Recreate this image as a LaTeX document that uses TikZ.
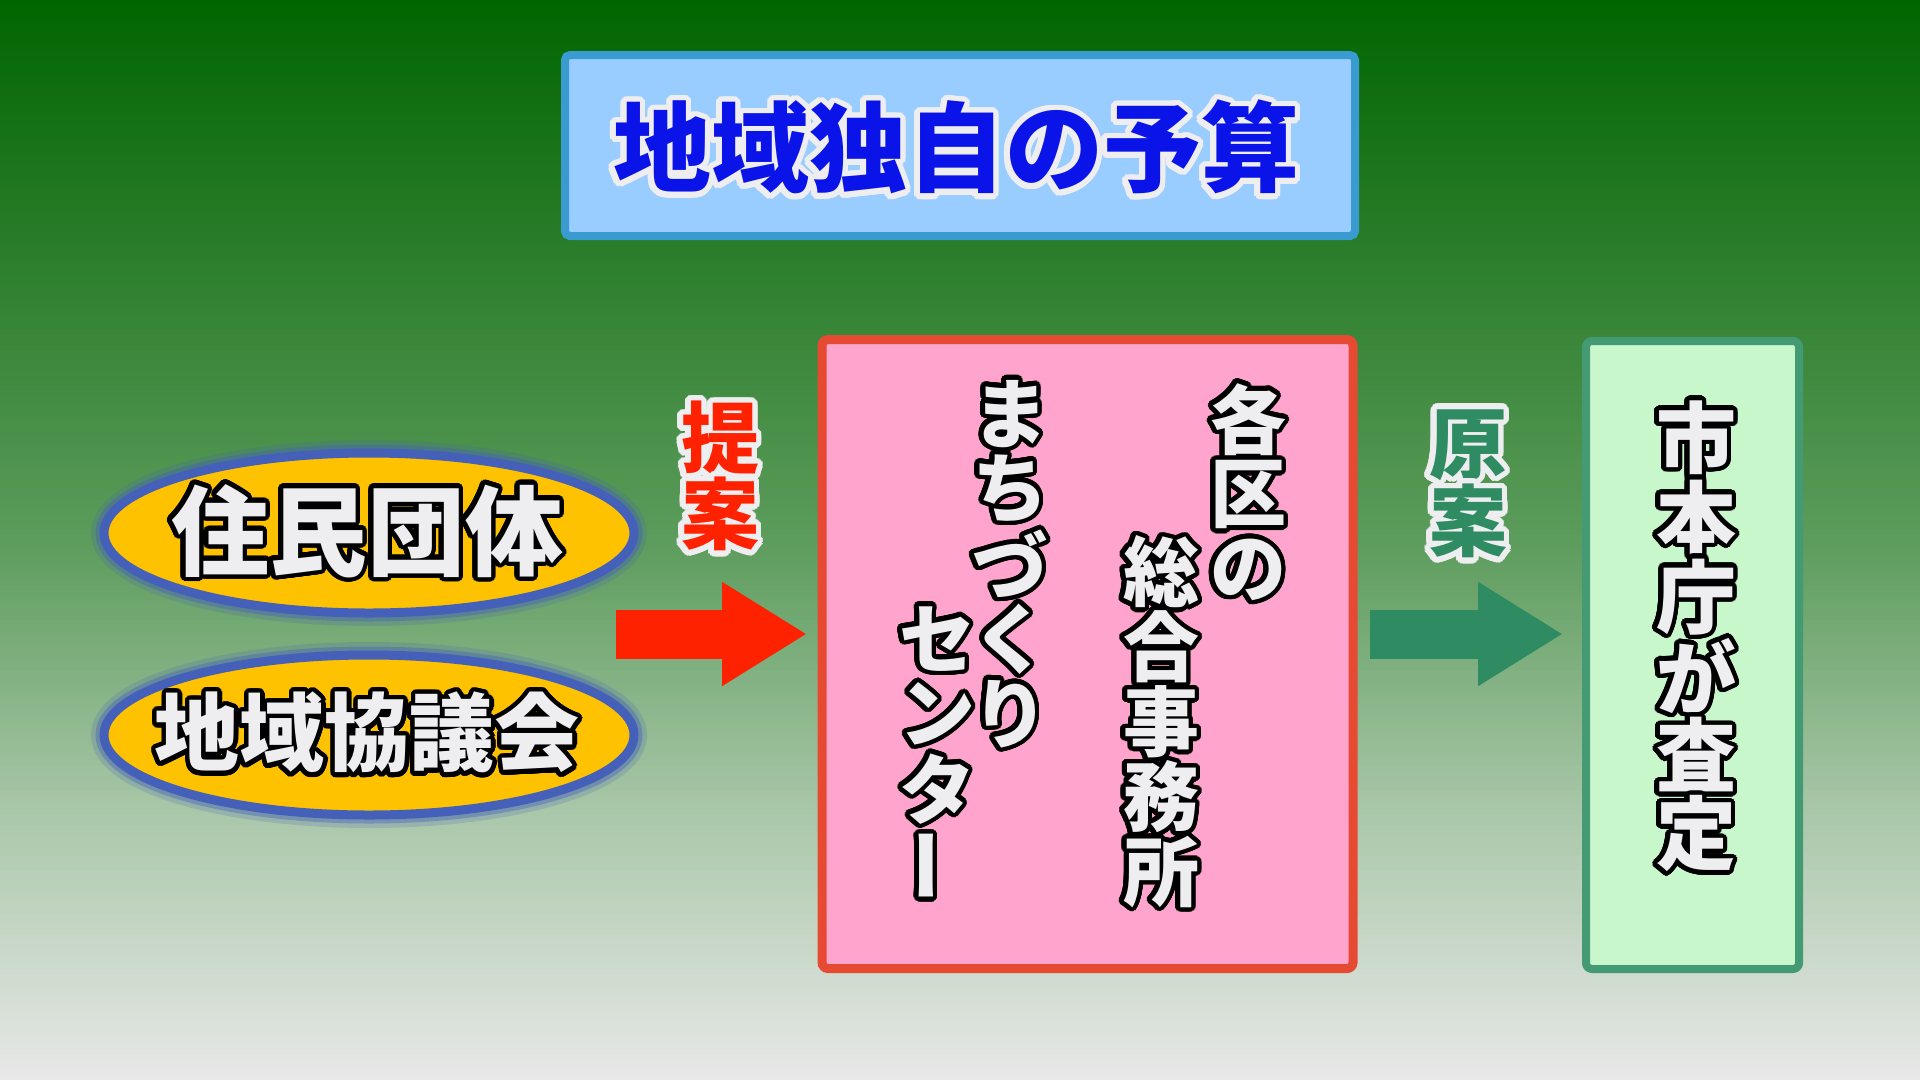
\documentclass[tikz,border=0pt]{standalone}
\usepackage{fontspec}
\usepackage[copies]{contour}
\usetikzlibrary{shapes.geometric,arrows.meta}
\newfontfamily\jp{Noto Sans CJK JP Black}
\contournumber{32}
\definecolor{bgA}{HTML}{006600}
\definecolor{bgB}{HTML}{2E7F2E}
\definecolor{bgC}{HTML}{5C9C5C}
\definecolor{bgD}{HTML}{A9C7A9}
\definecolor{bgE}{HTML}{E8E8E8}
\definecolor{titleFill}{HTML}{99CCFF}
\definecolor{titleBorder}{HTML}{3A9BD0}
\definecolor{titleText}{HTML}{0A14E8}
\definecolor{txtWhite}{HTML}{EEEEF0}
\definecolor{ellFill}{HTML}{FFC200}
\definecolor{ellBorder}{HTML}{4560B8}
\definecolor{redArrow}{HTML}{FF2200}
\definecolor{pinkFill}{HTML}{FFA4CC}
\definecolor{pinkBorder}{HTML}{E64A33}
\definecolor{greenArrow}{HTML}{2E8B62}
\definecolor{greenFill}{HTML}{C8F7CC}
\definecolor{greenBorder}{HTML}{449A72}
\newcommand\wch[1]{\contourlength{4.5pt}\contour{black}{\textcolor{txtWhite}{#1}}}
\newcommand\lch[2]{\contourlength{5.5pt}\contour{txtWhite}{\textcolor{#1}{#2}}}
\tikzset{
  ellbox/.style={ellipse, fill=ellFill, draw=ellBorder, line width=9, minimum width=530, minimum height=160, inner sep=0,
    preaction={draw=ellBorder, line width=26, opacity=0.2},
    preaction={draw=ellBorder, line width=17, opacity=0.4}},
  chr/.style={inner sep=0, font=\jp\fontsize{#1}{#1}\selectfont},
  bigarrow/.style={line width=49, -{Triangle[length=85pt, width=98pt]}},
}
\begin{document}
\begin{tikzpicture}[x=1pt,y=-1pt]
\useasboundingbox (0,0) rectangle (1920,1080);
% background gradient
\foreach \ya/\ca/\cb in {0/bgA/bgB, 270/bgB/bgC, 540/bgC/bgD, 810/bgD/bgE}{
  \foreach \i in {0,...,53}{
    \pgfmathtruncatemacro\pc{(\i+0.5)*100/54}
    \pgfmathsetmacro\yy{\ya+\i*5}
    \fill[\cb!\pc!\ca] (0,\yy) rectangle (1920,\yy+5.4);
  }}
% title
\node[draw=titleBorder, fill=titleFill, line width=8, rounded corners=5, minimum width=790, minimum height=181, inner sep=0] (title) at (960,145.5) {};
\node[chr=98] (titletext) at (956,150) {\lch{titleText}{地域独自の予算}};
% ellipses
\node[ellbox] (e1) at (369,533) {};
\node[ellbox] (e2) at (369,735) {};
\node[chr=98] (t1) at (367,533) {\wch{住民団体}};
\node[chr=85] (t2) at (367,735) {\wch{地域協議会}};
% boxes
\node[draw=pinkBorder, fill=pinkFill, line width=9, rounded corners=6, minimum width=531, minimum height=629, inner sep=0] (pink) at (1087.5,654) {};
\node[draw=greenBorder, fill=greenFill, line width=8, rounded corners=6, minimum width=213, minimum height=628, inner sep=0] (green) at (1692.5,655) {};
% arrows
\coordinate (ra) at (616,634);
\coordinate (ga) at (1370,634);
\draw[bigarrow, redArrow, shorten >=10.5pt] (ra) -- (ra -| pink.west);
\draw[bigarrow, greenArrow, shorten >=19pt] (ga) -- (ga -| green.west);
% labels
\foreach \c [count=\i from 0] in {提,案}
  \node[chr=78] (lt\i) at (720,441+76*\i) {\lch{redArrow}{\c}};
\foreach \c [count=\i from 0] in {原,案}
  \node[chr=78] (lg\i) at (1468,448+76*\i) {\lch{greenArrow}{\c}};
% pink box text
\foreach \c [count=\i from 0] in {各,区,の}
  \node[chr=76] (pa\i) at (1248,422+75*\i) {\wch{\c}};
\foreach \c [count=\i from 0] in {総,合,事,務,所}
  \node[chr=76] (pb\i) at (1161,574+75*\i) {\wch{\c}};
\foreach \c [count=\i from 0] in {ま,ち,づ,く,り}
  \node[chr=76] (pc\i) at (1010,416+75*\i) {\wch{\c}};
\foreach \c [count=\i from 0] in {セ,ン,タ}
  \node[chr=76] (pd\i) at (937,641+75*\i) {\wch{\c}};
\node[chr=76] (pd3) at (937,868) {\contourlength{4.5pt}\contour{black}{\rotatebox[origin=c]{90}{\textcolor{txtWhite}{ー}}}};
% green box text
\foreach \c [count=\i from 0] in {市,本,庁,が,査,定}
  \node[chr=80] (g\i) at (1696,441+79*\i) {\wch{\c}};
\end{tikzpicture}
\end{document}
